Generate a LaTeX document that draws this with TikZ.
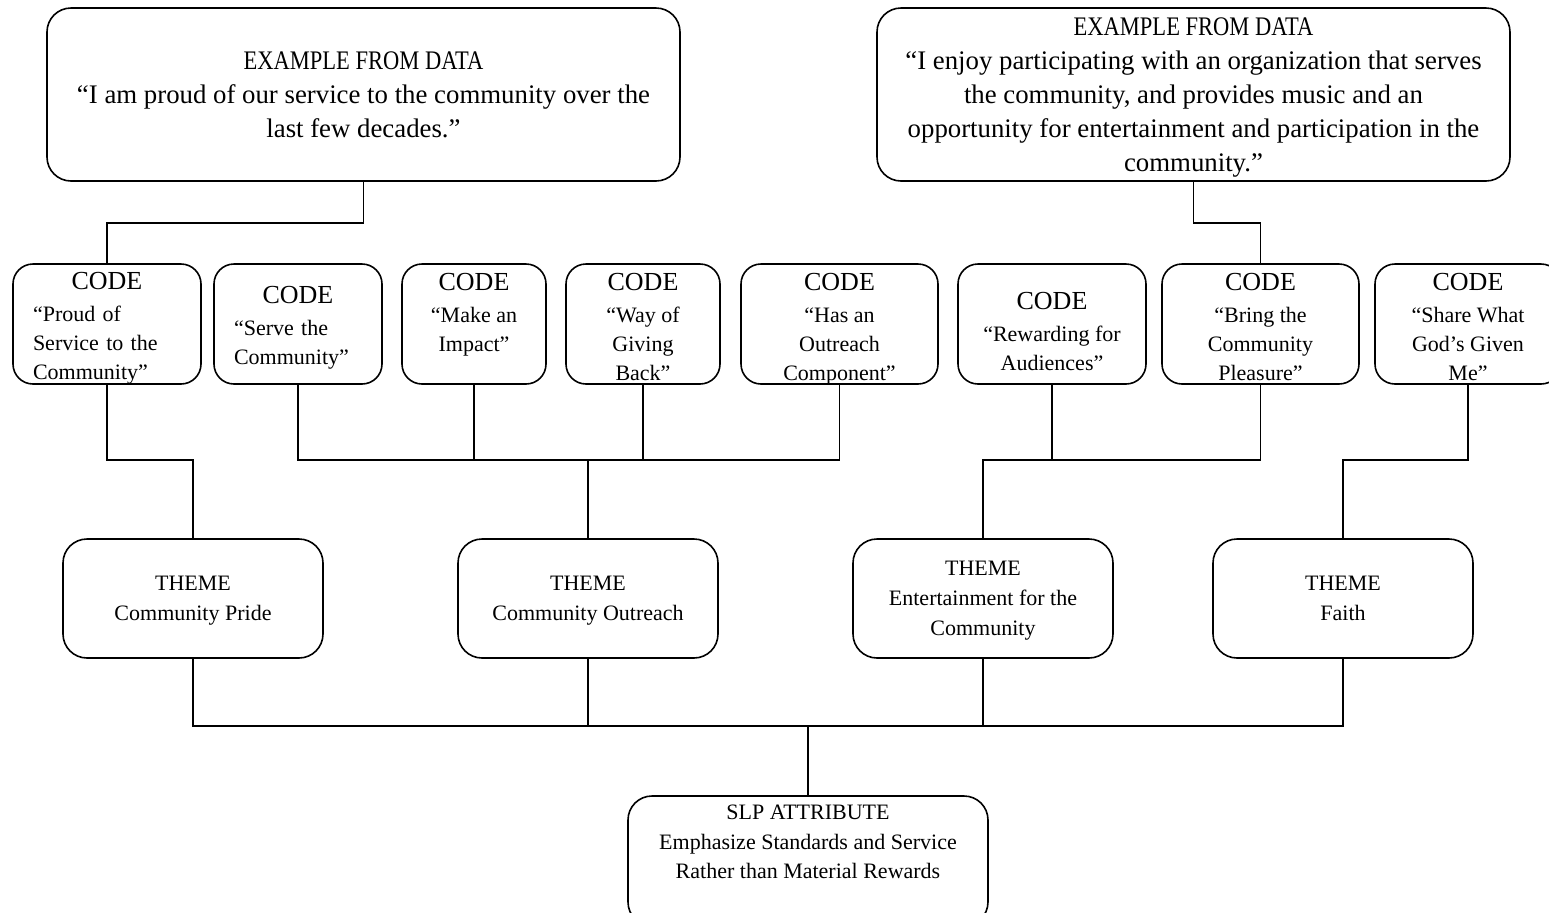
\documentclass[tikz,border=0pt]{standalone}
\usepackage{fontspec}
\setmainfont{Liberation Serif}
\newfontfamily\headfont[FakeStretch=0.84]{Liberation Serif}
\usetikzlibrary{arrows, shapes}

\tikzset{
  box/.style={draw, line width=0.8pt, rounded corners=12pt, inner sep=0pt, align=center},
  exbox/.style={box, minimum width=316.5pt, minimum height=86.5pt, font=\fontsize{13.4}{17}\selectfont},
  codebox/.style={box, rounded corners=10pt, minimum height=60pt, font=\fontsize{11}{14.5}\selectfont},
  codeleft/.style={codebox, align=left, inner xsep=10pt, text height=12.5pt},
  themebox/.style={box, minimum width=130pt, minimum height=59.5pt, text depth=0pt, font=\fontsize{11}{15}\selectfont},
  link/.style={line width=0.6pt}
}
\newcommand{\codeword}{{\fontsize{13}{14.5}\selectfont\rule{0pt}{11pt}CODE}}
\newcommand{\codehd}{\codeword\\[1.5pt]}

\begin{document}
\begin{tikzpicture}[x=0.5pt, y=-0.5pt]
\useasboundingbox (0,0) rectangle (1549,912);

\node[exbox] (ex1) at (363.5,94.5) {{\headfont EXAMPLE FROM DATA}\\ ``I am proud of our service to the community over the\\ last few decades.''};
\node[exbox] (ex2) at (1193.5,94.5) {{\headfont\rule{0pt}{12pt}EXAMPLE FROM DATA}\\ ``I enjoy participating with an organization that serves\\ the community, and provides music and an\\ opportunity for entertainment and participation in the\\ community.''};

\node[codeleft, text width=74pt, minimum width=94pt] (c1) at (107,324) {\mbox{}\hfill\codeword\hfill\mbox{}\\[1.5pt] ``Proud of\\ Service to the\\ Community''};
\node[codeleft, text width=64pt, minimum width=84pt] (c2) at (298,324) {\mbox{}\hfill\codeword\hfill\mbox{}\\[1.5pt] ``Serve the\\ Community''};
\node[codebox, minimum width=72pt, text depth=14.5pt] (c3) at (474,324) {\codehd ``Make an\\ Impact''};
\node[codebox, minimum width=77pt, text depth=0pt] (c4) at (643,324) {\codehd ``Way of\\ Giving\\ Back''};
\node[codebox, minimum width=98.5pt, text depth=0pt] (c5) at (839.5,324) {\codehd ``Has an\\ Outreach\\ Component''};
\node[codebox, minimum width=94pt, text depth=0pt] (c6) at (1052,324) {{\fontsize{13}{14.5}\selectfont\rule{0pt}{16pt}CODE}\\[1.5pt] ``Rewarding for\\ Audiences''};
\node[codebox, minimum width=98.5pt, text depth=0pt] (c7) at (1260.5,324) {\codehd ``Bring the\\ Community\\ Pleasure''};
\node[codebox, minimum width=93pt, text depth=0pt] (c8) at (1468,324) {\codehd ``Share What\\ God's Given\\ Me''};

\node[themebox] (t1) at (193,598.5) {THEME\\ Community Pride};
\node[themebox] (t2) at (588,598.5) {THEME\\ Community Outreach};
\node[themebox] (t3) at (983,598.5) {THEME\\ Entertainment for the\\ Community};
\node[themebox] (t4) at (1343,598.5) {THEME\\ Faith};

\node[box, minimum width=180pt, minimum height=65pt, text depth=19pt, font=\fontsize{11}{14.75}\selectfont] (slp) at (808,861) {SLP ATTRIBUTE\\ Emphasize Standards and Service\\ Rather than Material Rewards};

% examples to codes
\coordinate (k1) at (107,223);
\coordinate (k2) at (1260.5,223);
\draw[link] (ex1.south) |- (k1) -- (c1.north);
\draw[link] (ex2.south) |- (k2) -- (c7.north);

% codes to themes
\coordinate (m1) at (193,460);
\coordinate (m2) at (588,460);
\coordinate (m3) at (983,460);
\coordinate (m4) at (1343,460);
\draw[link] (c1.south) |- (m1) -- (t1.north);
\draw[link] (c2.south) |- (m2) -- (t2.north);
\draw[link] (c5.south) |- (m2);
\draw[link] (c3.south) -- (c3.south |- m2);
\draw[link] (c4.south) -- (c4.south |- m2);
\draw[link] (c7.south) |- (m3) -- (t3.north);
\draw[link] (c6.south) -- (c6.south |- m3);
\draw[link] (c8.south) |- (m4) -- (t4.north);

% themes to attribute
\coordinate (b) at (808,726);
\draw[link] (t1.south) |- (b) -- (slp.north);
\draw[link] (t4.south) |- (b);
\draw[link] (t2.south) -- (t2.south |- b);
\draw[link] (t3.south) -- (t3.south |- b);
\end{tikzpicture}
\end{document}
